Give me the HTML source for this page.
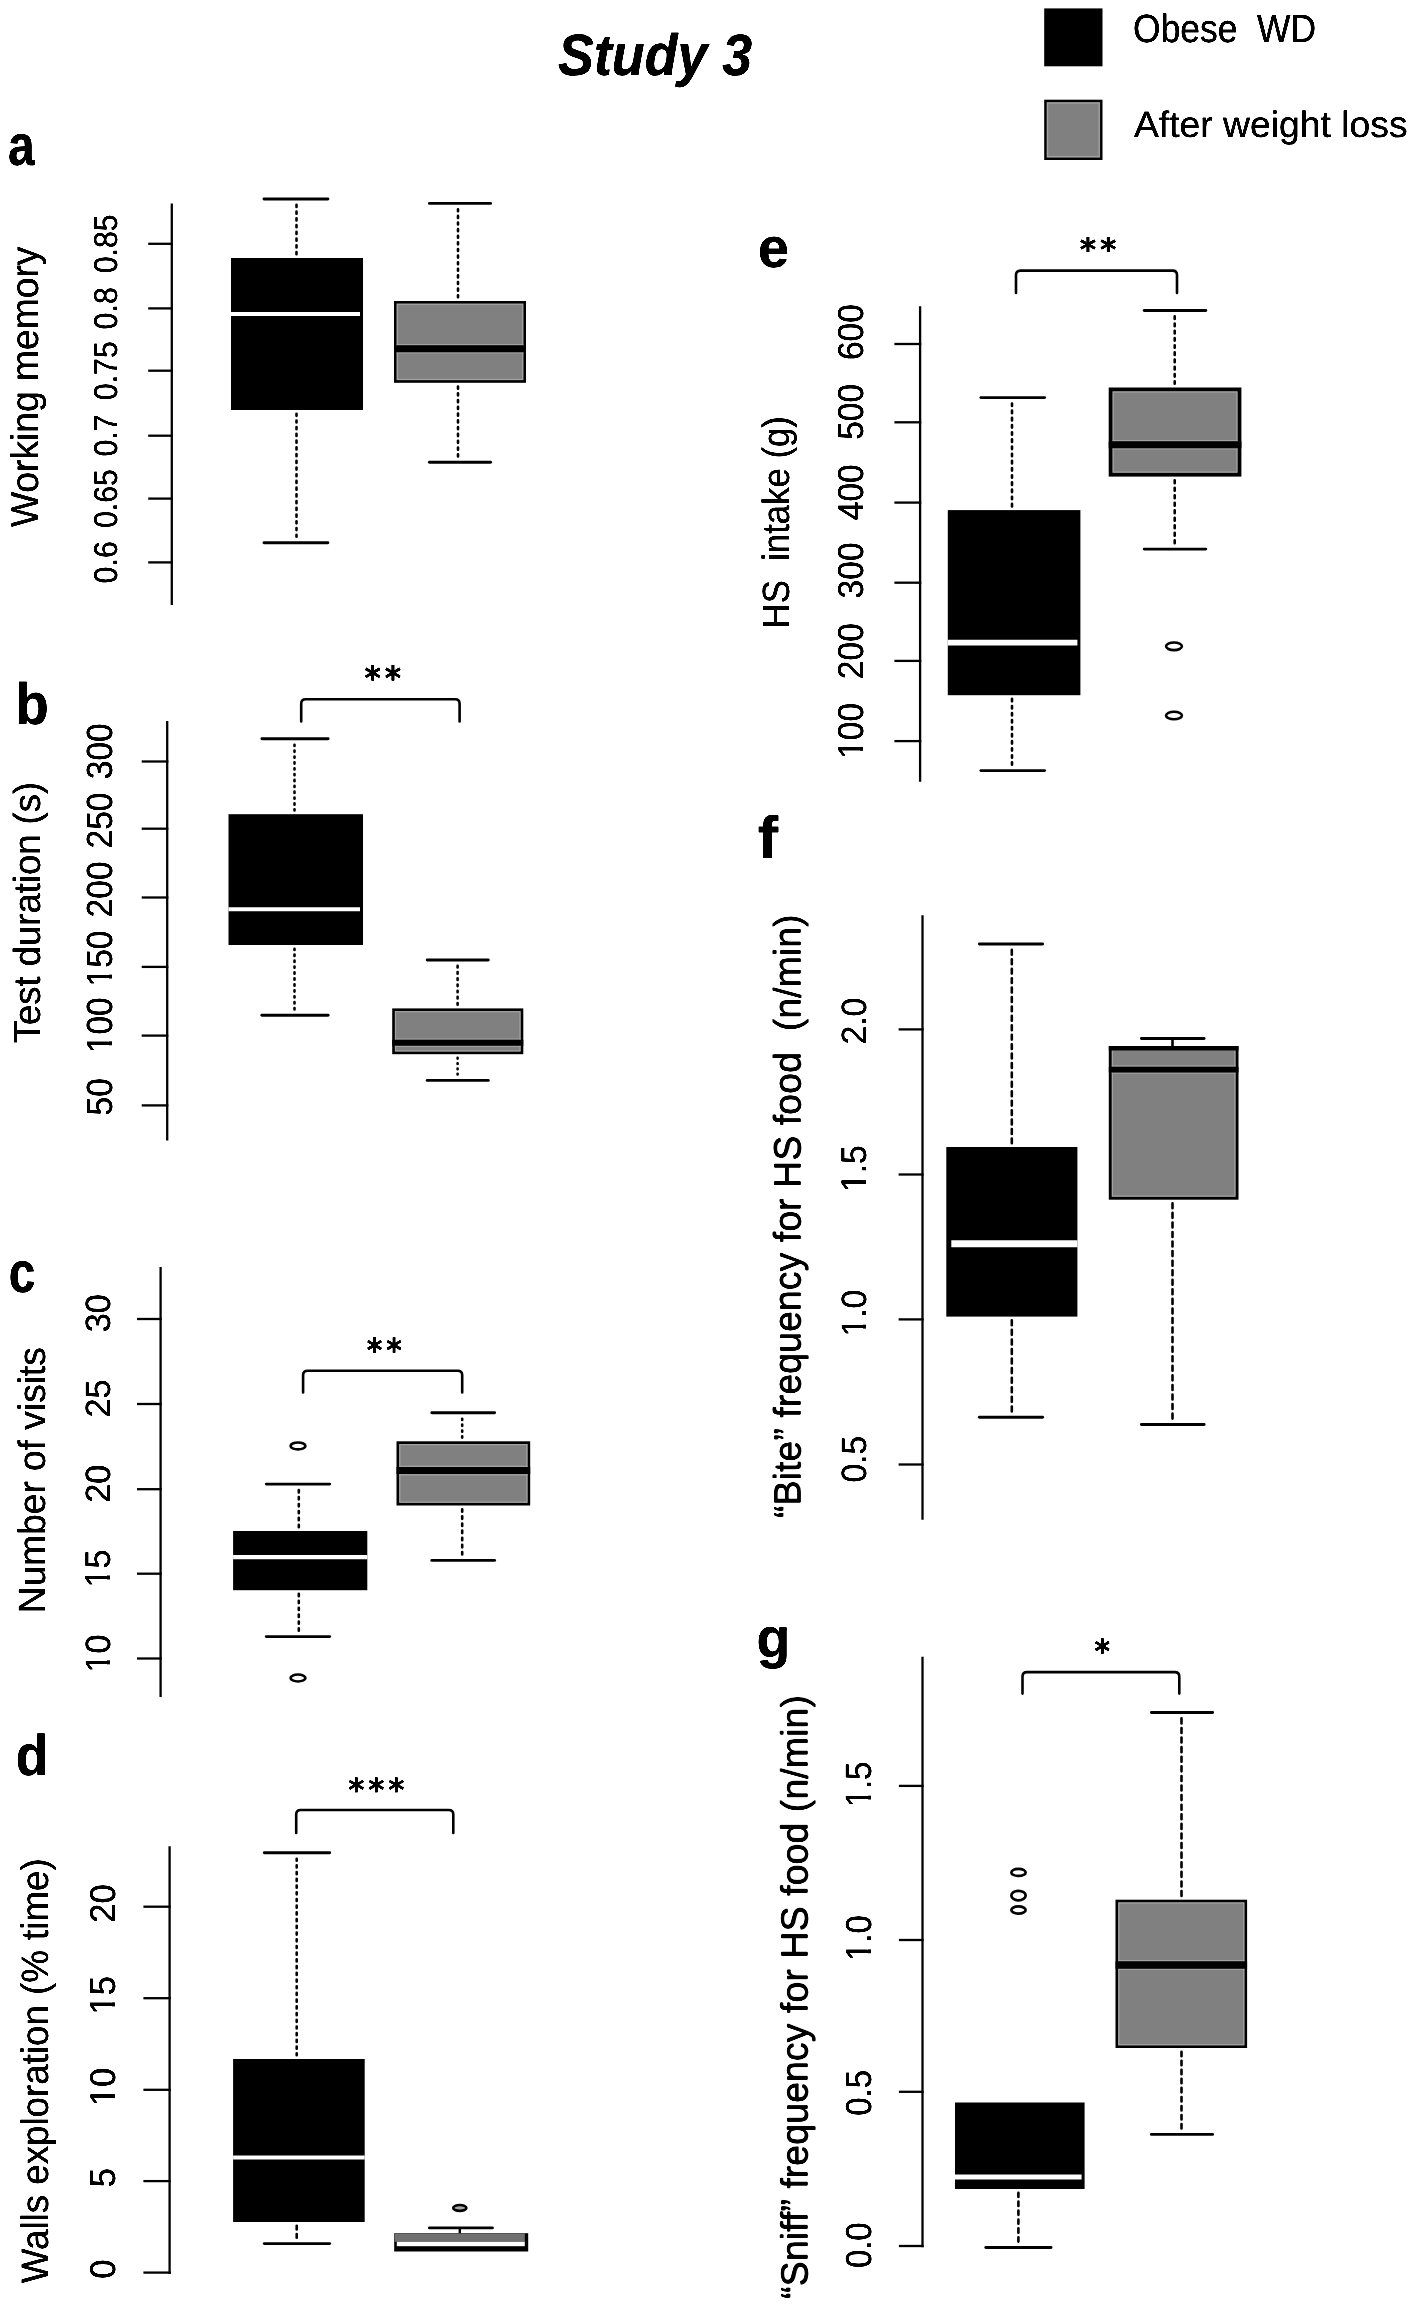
<!DOCTYPE html>
<html lang="en">
<head>
<meta charset="utf-8">
<title>Study 3</title>
<style>
html,body{margin:0;padding:0;background:#fff;}
body{width:1414px;height:2308px;overflow:hidden;}
svg{display:block;filter:blur(0.55px);}
</style>
</head>
<body>
<svg width="1414" height="2308" viewBox="0 0 1414 2308" font-family='"Liberation Sans", sans-serif' fill="#000" text-rendering="geometricPrecision">
<rect width="1414" height="2308" fill="#fff"/>
<defs><filter id="bold" filterUnits="userSpaceOnUse" x="0" y="0" width="1414" height="2308" color-interpolation-filters="sRGB"><feGaussianBlur stdDeviation="0.7"/><feComponentTransfer><feFuncA type="linear" slope="2.5" intercept="-0.15"/></feComponentTransfer></filter></defs>
<rect x="1044.2" y="8.4" width="58.3" height="57.9" fill="#000"/>
<rect x="1045.4" y="100.9" width="55.9" height="57.9" fill="#808080" stroke="#000" stroke-width="2.4"/>
<rect x="1047.6" y="103.1" width="51.5" height="53.5" fill="none" stroke="#a2a2a2" stroke-width="1.2"/>
<line x1="171.8" y1="203.6" x2="171.8" y2="605" stroke="#000" stroke-width="2.3" stroke-linecap="butt"/>
<line x1="148.2" y1="243.8" x2="172.95" y2="243.8" stroke="#000" stroke-width="2.3" />
<line x1="148.2" y1="308.4" x2="172.95" y2="308.4" stroke="#000" stroke-width="2.3" />
<line x1="148.2" y1="370.7" x2="172.95" y2="370.7" stroke="#000" stroke-width="2.3" />
<line x1="148.2" y1="435.7" x2="172.95" y2="435.7" stroke="#000" stroke-width="2.3" />
<line x1="148.2" y1="498.6" x2="172.95" y2="498.6" stroke="#000" stroke-width="2.3" />
<line x1="148.2" y1="562.4" x2="172.95" y2="562.4" stroke="#000" stroke-width="2.3" />
<line x1="296.5" y1="204.9" x2="296.5" y2="254.3" stroke="#000" stroke-width="2.6" stroke-linecap="round" stroke-dasharray="2.15 4.6"/>
<line x1="264" y1="199" x2="327.9" y2="199" stroke="#000" stroke-width="2.9" stroke-linecap="round"/>
<line x1="296.5" y1="536.8" x2="296.5" y2="413.7" stroke="#000" stroke-width="2.6" stroke-linecap="round" stroke-dasharray="2.12 4.6"/>
<line x1="264" y1="542.7" x2="327.9" y2="542.7" stroke="#000" stroke-width="2.9" stroke-linecap="round"/>
<rect x="231" y="258" width="132" height="152" fill="#000"/>
<line x1="231" y1="314" x2="360" y2="314" stroke="#fff" stroke-width="4.2"/>
<line x1="458" y1="209.3" x2="458" y2="297.3" stroke="#000" stroke-width="2.6" stroke-linecap="round" stroke-dasharray="2.01 4.6"/>
<line x1="429.4" y1="203.4" x2="490.6" y2="203.4" stroke="#000" stroke-width="2.9" stroke-linecap="round"/>
<line x1="458" y1="456.4" x2="458" y2="386.5" stroke="#000" stroke-width="2.6" stroke-linecap="round" stroke-dasharray="2.17 4.6"/>
<line x1="429.4" y1="462.3" x2="490.6" y2="462.3" stroke="#000" stroke-width="2.9" stroke-linecap="round"/>
<rect x="395.35" y="302.35" width="129.3" height="79.1" fill="#808080" stroke="#000" stroke-width="2.7"/>
<rect x="397.3" y="304.3" width="125.4" height="75.2" fill="none" stroke="#a2a2a2" stroke-width="1.2"/>
<line x1="396.7" y1="344.5" x2="523.3" y2="344.5" stroke="#a2a2a2" stroke-width="1.2"/>
<line x1="396.7" y1="352.9" x2="523.3" y2="352.9" stroke="#a2a2a2" stroke-width="1.2"/>
<line x1="394" y1="348.7" x2="526" y2="348.7" stroke="#000" stroke-width="7" />
<line x1="167.2" y1="721" x2="167.2" y2="1140.5" stroke="#000" stroke-width="2.3" stroke-linecap="butt"/>
<line x1="141.7" y1="761.5" x2="168.35" y2="761.5" stroke="#000" stroke-width="2.3" />
<line x1="141.7" y1="828.7" x2="168.35" y2="828.7" stroke="#000" stroke-width="2.3" />
<line x1="141.7" y1="897.5" x2="168.35" y2="897.5" stroke="#000" stroke-width="2.3" />
<line x1="141.7" y1="966.9" x2="168.35" y2="966.9" stroke="#000" stroke-width="2.3" />
<line x1="141.7" y1="1035.6" x2="168.35" y2="1035.6" stroke="#000" stroke-width="2.3" />
<line x1="141.7" y1="1105.4" x2="168.35" y2="1105.4" stroke="#000" stroke-width="2.3" />
<line x1="294.5" y1="744.7" x2="294.5" y2="810.5" stroke="#000" stroke-width="2.6" stroke-linecap="round" stroke-dasharray="1.27 4.6"/>
<line x1="261.9" y1="738.8" x2="328.1" y2="738.8" stroke="#000" stroke-width="2.9" stroke-linecap="round"/>
<line x1="294.5" y1="1009.4" x2="294.5" y2="948.7" stroke="#000" stroke-width="2.6" stroke-linecap="round" stroke-dasharray="1.34 4.6"/>
<line x1="261.9" y1="1015.3" x2="328.1" y2="1015.3" stroke="#000" stroke-width="2.9" stroke-linecap="round"/>
<rect x="228.5" y="814.2" width="134.5" height="130.8" fill="#000"/>
<line x1="228.5" y1="909.3" x2="360" y2="909.3" stroke="#fff" stroke-width="4"/>
<line x1="457.6" y1="965.9" x2="457.6" y2="1004.7" stroke="#000" stroke-width="2.6" stroke-linecap="round" stroke-dasharray="1.6 4.6"/>
<line x1="427.2" y1="960" x2="488.3" y2="960" stroke="#000" stroke-width="2.9" stroke-linecap="round"/>
<line x1="457.6" y1="1074.5" x2="457.6" y2="1057.9" stroke="#000" stroke-width="2.6" stroke-linecap="round" stroke-dasharray="0.7 4.6"/>
<line x1="427.2" y1="1080.4" x2="488.3" y2="1080.4" stroke="#000" stroke-width="2.9" stroke-linecap="round"/>
<rect x="393.55" y="1009.75" width="128.4" height="43.1" fill="#808080" stroke="#000" stroke-width="2.7"/>
<rect x="395.5" y="1011.7" width="124.5" height="39.2" fill="none" stroke="#a2a2a2" stroke-width="1.2"/>
<line x1="394.9" y1="1039" x2="520.6" y2="1039" stroke="#a2a2a2" stroke-width="1.2"/>
<line x1="394.9" y1="1046.4" x2="520.6" y2="1046.4" stroke="#a2a2a2" stroke-width="1.2"/>
<line x1="392.2" y1="1042.7" x2="523.3" y2="1042.7" stroke="#000" stroke-width="6" />
<path d="M301.2 721.4 V703.7 Q301.2 699.2 305.7 699.2 H455.1 Q459.6 699.2 459.6 703.7 V721.4" fill="none" stroke="#000" stroke-width="2.6" stroke-linecap="round"/>
<line x1="160.6" y1="1267" x2="160.6" y2="1697" stroke="#000" stroke-width="2.3" stroke-linecap="butt"/>
<line x1="137" y1="1319" x2="161.75" y2="1319" stroke="#000" stroke-width="2.3" />
<line x1="137" y1="1404" x2="161.75" y2="1404" stroke="#000" stroke-width="2.3" />
<line x1="137" y1="1489.2" x2="161.75" y2="1489.2" stroke="#000" stroke-width="2.3" />
<line x1="137" y1="1573.7" x2="161.75" y2="1573.7" stroke="#000" stroke-width="2.3" />
<line x1="137" y1="1658.5" x2="161.75" y2="1658.5" stroke="#000" stroke-width="2.3" />
<line x1="298.8" y1="1490" x2="298.8" y2="1527.3" stroke="#000" stroke-width="2.6" stroke-linecap="round" stroke-dasharray="2.38 4.6"/>
<line x1="266.3" y1="1484.1" x2="329.7" y2="1484.1" stroke="#000" stroke-width="2.9" stroke-linecap="round"/>
<line x1="298.8" y1="1630.7" x2="298.8" y2="1593.9" stroke="#000" stroke-width="2.6" stroke-linecap="round" stroke-dasharray="2.3 4.6"/>
<line x1="266.3" y1="1636.6" x2="329.7" y2="1636.6" stroke="#000" stroke-width="2.9" stroke-linecap="round"/>
<rect x="233.1" y="1531" width="134.2" height="59.2" fill="#000"/>
<line x1="233.1" y1="1557.1" x2="367.3" y2="1557.1" stroke="#fff" stroke-width="4.4"/>
<ellipse cx="298" cy="1445.9" rx="7.45" ry="3.45" fill="#fff" stroke="#000" stroke-width="2.6"/>
<ellipse cx="298" cy="1678" rx="7.45" ry="3.45" fill="#fff" stroke="#000" stroke-width="2.6"/>
<line x1="462.2" y1="1418.7" x2="462.2" y2="1437.6" stroke="#000" stroke-width="2.6" stroke-linecap="round" stroke-dasharray="1.27 4.6"/>
<line x1="431.8" y1="1412.8" x2="494.6" y2="1412.8" stroke="#000" stroke-width="2.9" stroke-linecap="round"/>
<line x1="462.2" y1="1554.5" x2="462.2" y2="1509.2" stroke="#000" stroke-width="2.6" stroke-linecap="round" stroke-dasharray="2.53 4.6"/>
<line x1="431.8" y1="1560.4" x2="494.6" y2="1560.4" stroke="#000" stroke-width="2.9" stroke-linecap="round"/>
<rect x="397.85" y="1442.65" width="131" height="61.5" fill="#808080" stroke="#000" stroke-width="2.7"/>
<rect x="399.8" y="1444.6" width="127.1" height="57.6" fill="none" stroke="#a2a2a2" stroke-width="1.2"/>
<line x1="399.2" y1="1466.4" x2="527.5" y2="1466.4" stroke="#a2a2a2" stroke-width="1.2"/>
<line x1="399.2" y1="1474.8" x2="527.5" y2="1474.8" stroke="#a2a2a2" stroke-width="1.2"/>
<line x1="396.5" y1="1470.6" x2="530.2" y2="1470.6" stroke="#000" stroke-width="7" />
<path d="M303.1 1392.5 V1375.2 Q303.1 1370.7 307.6 1370.7 H457.7 Q462.2 1370.7 462.2 1375.2 V1392.5" fill="none" stroke="#000" stroke-width="2.6" stroke-linecap="round"/>
<line x1="169.6" y1="1846.2" x2="169.6" y2="2273.9" stroke="#000" stroke-width="2.3" stroke-linecap="butt"/>
<line x1="143.4" y1="1906.7" x2="170.75" y2="1906.7" stroke="#000" stroke-width="2.3" />
<line x1="143.4" y1="1998.2" x2="170.75" y2="1998.2" stroke="#000" stroke-width="2.3" />
<line x1="143.4" y1="2089.8" x2="170.75" y2="2089.8" stroke="#000" stroke-width="2.3" />
<line x1="143.4" y1="2181.1" x2="170.75" y2="2181.1" stroke="#000" stroke-width="2.3" />
<line x1="143.4" y1="2272.6" x2="170.75" y2="2272.6" stroke="#000" stroke-width="2.3" />
<line x1="296.7" y1="1858.7" x2="296.7" y2="2055.3" stroke="#000" stroke-width="2.6" stroke-linecap="round" stroke-dasharray="2.11 4.6"/>
<line x1="264.3" y1="1852.8" x2="329.7" y2="1852.8" stroke="#000" stroke-width="2.9" stroke-linecap="round"/>
<line x1="296.7" y1="2237.7" x2="296.7" y2="2225.7" stroke="#000" stroke-width="2.6" stroke-linecap="round" stroke-dasharray="3.7 4.6"/>
<line x1="264.3" y1="2243.6" x2="329.7" y2="2243.6" stroke="#000" stroke-width="2.9" stroke-linecap="round"/>
<rect x="233.1" y="2059" width="131.6" height="163" fill="#000"/>
<line x1="233.1" y1="2157.5" x2="364.7" y2="2157.5" stroke="#fff" stroke-width="3.8"/>
<line x1="429.4" y1="2227.9" x2="492.4" y2="2227.9" stroke="#000" stroke-width="2.9" stroke-linecap="round"/>
<line x1="459.8" y1="2228" x2="459.8" y2="2234" stroke="#000" stroke-width="2.4" />
<rect x="394.2" y="2233.2" width="134" height="18.3" fill="#000"/>
<rect x="394.6" y="2233.4" width="130.2" height="8.4" fill="#707070"/>
<rect x="396.8" y="2241.8" width="128" height="4.4" fill="#fff"/>
<ellipse cx="459.8" cy="2207.9" rx="6.6" ry="2.95" fill="#aaa" stroke="#000" stroke-width="2.6"/>
<path d="M296.2 1833 V1814.5 Q296.2 1810 300.7 1810 H448.8 Q453.3 1810 453.3 1814.5 V1833" fill="none" stroke="#000" stroke-width="2.6" stroke-linecap="round"/>
<line x1="920.1" y1="306.2" x2="920.1" y2="781.8" stroke="#000" stroke-width="2.3" stroke-linecap="butt"/>
<line x1="894.4" y1="344" x2="921.25" y2="344" stroke="#000" stroke-width="2.3" />
<line x1="894.4" y1="422.3" x2="921.25" y2="422.3" stroke="#000" stroke-width="2.3" />
<line x1="894.4" y1="502.6" x2="921.25" y2="502.6" stroke="#000" stroke-width="2.3" />
<line x1="894.4" y1="582.7" x2="921.25" y2="582.7" stroke="#000" stroke-width="2.3" />
<line x1="894.4" y1="660.9" x2="921.25" y2="660.9" stroke="#000" stroke-width="2.3" />
<line x1="894.4" y1="741.1" x2="921.25" y2="741.1" stroke="#000" stroke-width="2.3" />
<line x1="1012" y1="403.5" x2="1012" y2="506.4" stroke="#000" stroke-width="2.6" stroke-linecap="round" stroke-dasharray="2.57 4.6"/>
<line x1="980.9" y1="397.6" x2="1044.6" y2="397.6" stroke="#000" stroke-width="2.9" stroke-linecap="round"/>
<line x1="1012" y1="764.7" x2="1012" y2="698.9" stroke="#000" stroke-width="2.6" stroke-linecap="round" stroke-dasharray="2.44 4.6"/>
<line x1="980.9" y1="770.6" x2="1044.6" y2="770.6" stroke="#000" stroke-width="2.9" stroke-linecap="round"/>
<rect x="947.8" y="510.1" width="132.6" height="185.1" fill="#000"/>
<line x1="947.8" y1="642.7" x2="1077.4" y2="642.7" stroke="#fff" stroke-width="5.8"/>
<line x1="1174.7" y1="316.4" x2="1174.7" y2="383.8" stroke="#000" stroke-width="2.6" stroke-linecap="round" stroke-dasharray="2.6 4.6"/>
<line x1="1144.2" y1="310.5" x2="1205.8" y2="310.5" stroke="#000" stroke-width="2.9" stroke-linecap="round"/>
<line x1="1174.7" y1="543.2" x2="1174.7" y2="480.3" stroke="#000" stroke-width="2.6" stroke-linecap="round" stroke-dasharray="2.9 4.6"/>
<line x1="1144.2" y1="549.1" x2="1205.8" y2="549.1" stroke="#000" stroke-width="2.9" stroke-linecap="round"/>
<rect x="1110.65" y="389.45" width="128.8" height="85.2" fill="#808080" stroke="#000" stroke-width="3.9"/>
<rect x="1113.2" y="392" width="123.7" height="80.1" fill="none" stroke="#a2a2a2" stroke-width="1.2"/>
<line x1="1112.6" y1="440.5" x2="1237.5" y2="440.5" stroke="#a2a2a2" stroke-width="1.2"/>
<line x1="1112.6" y1="448.9" x2="1237.5" y2="448.9" stroke="#a2a2a2" stroke-width="1.2"/>
<line x1="1108.7" y1="444.7" x2="1241.4" y2="444.7" stroke="#000" stroke-width="7" />
<ellipse cx="1174" cy="646.3" rx="7.95" ry="3.8" fill="#fff" stroke="#000" stroke-width="2.6"/>
<ellipse cx="1174" cy="715.5" rx="7.95" ry="3.8" fill="#fff" stroke="#000" stroke-width="2.6"/>
<path d="M1016 293 V275.1 Q1016 270.6 1020.5 270.6 H1172.5 Q1177 270.6 1177 275.1 V293" fill="none" stroke="#000" stroke-width="2.6" stroke-linecap="round"/>
<line x1="922.5" y1="915.3" x2="922.5" y2="1519.7" stroke="#000" stroke-width="2.3" stroke-linecap="butt"/>
<line x1="898.6" y1="1029.4" x2="923.65" y2="1029.4" stroke="#000" stroke-width="2.3" />
<line x1="898.6" y1="1174.5" x2="923.65" y2="1174.5" stroke="#000" stroke-width="2.3" />
<line x1="898.6" y1="1319.4" x2="923.65" y2="1319.4" stroke="#000" stroke-width="2.3" />
<line x1="898.6" y1="1464.5" x2="923.65" y2="1464.5" stroke="#000" stroke-width="2.3" />
<line x1="1011.8" y1="949.9" x2="1011.8" y2="1143.3" stroke="#000" stroke-width="2.6" stroke-linecap="round" stroke-dasharray="4.83 4.6"/>
<line x1="979.4" y1="944" x2="1042.6" y2="944" stroke="#000" stroke-width="2.9" stroke-linecap="round"/>
<line x1="1011.8" y1="1411.4" x2="1011.8" y2="1320.3" stroke="#000" stroke-width="2.6" stroke-linecap="round" stroke-dasharray="4.97 4.6"/>
<line x1="979.4" y1="1417.3" x2="1042.6" y2="1417.3" stroke="#000" stroke-width="2.9" stroke-linecap="round"/>
<rect x="946.3" y="1147" width="131.1" height="169.6" fill="#000"/>
<line x1="951.3" y1="1243.7" x2="1077.4" y2="1243.7" stroke="#fff" stroke-width="7"/>
<line x1="1141.4" y1="1038.5" x2="1204.1" y2="1038.5" stroke="#000" stroke-width="2.9" stroke-linecap="round"/>
<line x1="1172.5" y1="1038.5" x2="1172.5" y2="1047" stroke="#000" stroke-width="2.6" />
<line x1="1172.5" y1="1418.6" x2="1172.5" y2="1203.4" stroke="#000" stroke-width="2.6" stroke-linecap="round" stroke-dasharray="4.96 4.6"/>
<line x1="1141.4" y1="1424.5" x2="1204.1" y2="1424.5" stroke="#000" stroke-width="2.9" stroke-linecap="round"/>
<rect x="1110.3" y="1047.6" width="126.7" height="150.6" fill="#808080" stroke="#000" stroke-width="3"/>
<rect x="1112.4" y="1049.7" width="122.5" height="146.4" fill="none" stroke="#a2a2a2" stroke-width="1.2"/>
<line x1="1111.8" y1="1065.95" x2="1235.5" y2="1065.95" stroke="#a2a2a2" stroke-width="1.2"/>
<line x1="1111.8" y1="1073.25" x2="1235.5" y2="1073.25" stroke="#a2a2a2" stroke-width="1.2"/>
<line x1="1108.8" y1="1069.6" x2="1238.5" y2="1069.6" stroke="#000" stroke-width="5.9" />
<line x1="1108.8" y1="1048.2" x2="1238.5" y2="1048.2" stroke="#000" stroke-width="4.4" />
<line x1="922.5" y1="1656.7" x2="922.5" y2="2247.3" stroke="#000" stroke-width="2.3" stroke-linecap="butt"/>
<line x1="898.9" y1="1785.9" x2="923.65" y2="1785.9" stroke="#000" stroke-width="2.3" />
<line x1="898.9" y1="1940" x2="923.65" y2="1940" stroke="#000" stroke-width="2.3" />
<line x1="898.9" y1="2091.8" x2="923.65" y2="2091.8" stroke="#000" stroke-width="2.3" />
<line x1="898.9" y1="2246" x2="923.65" y2="2246" stroke="#000" stroke-width="2.3" />
<line x1="1018.4" y1="2241.6" x2="1018.4" y2="2192.7" stroke="#000" stroke-width="2.6" stroke-linecap="round" stroke-dasharray="4.32 4.6"/>
<line x1="985.8" y1="2247.5" x2="1051" y2="2247.5" stroke="#000" stroke-width="2.9" stroke-linecap="round"/>
<rect x="955" y="2102.5" width="129.6" height="86.5" fill="#000"/>
<line x1="955" y1="2177" x2="1081.6" y2="2177" stroke="#fff" stroke-width="5.2"/>
<ellipse cx="1018.5" cy="1872.4" rx="7.15" ry="3.55" fill="#fff" stroke="#000" stroke-width="2.7"/>
<ellipse cx="1018.5" cy="1895.6" rx="7.15" ry="4.8" fill="#fff" stroke="#000" stroke-width="2.7"/>
<ellipse cx="1018.5" cy="1910" rx="7.15" ry="3.55" fill="#fff" stroke="#000" stroke-width="2.7"/>
<line x1="1181.5" y1="1718.4" x2="1181.5" y2="1896" stroke="#000" stroke-width="2.6" stroke-linecap="round" stroke-dasharray="4.99 4.6"/>
<line x1="1151.4" y1="1712.5" x2="1212.6" y2="1712.5" stroke="#000" stroke-width="2.9" stroke-linecap="round"/>
<line x1="1181.5" y1="2128.5" x2="1181.5" y2="2051.7" stroke="#000" stroke-width="2.6" stroke-linecap="round" stroke-dasharray="4.44 4.6"/>
<line x1="1151.4" y1="2134.4" x2="1212.6" y2="2134.4" stroke="#000" stroke-width="2.9" stroke-linecap="round"/>
<rect x="1116.85" y="1901.05" width="128.9" height="145.6" fill="#808080" stroke="#000" stroke-width="2.7"/>
<rect x="1118.8" y="1903" width="125" height="141.7" fill="none" stroke="#a2a2a2" stroke-width="1.2"/>
<line x1="1118.2" y1="1960.55" x2="1244.4" y2="1960.55" stroke="#a2a2a2" stroke-width="1.2"/>
<line x1="1118.2" y1="1969.45" x2="1244.4" y2="1969.45" stroke="#a2a2a2" stroke-width="1.2"/>
<line x1="1115.5" y1="1965" x2="1247.1" y2="1965" stroke="#000" stroke-width="7.5" />
<path d="M1022.5 1693.6 V1676.6 Q1022.5 1672.1 1027 1672.1 H1174.8 Q1179.3 1672.1 1179.3 1676.6 V1693.6" fill="none" stroke="#000" stroke-width="2.6" stroke-linecap="round"/>
<g filter="url(#bold)">
<text transform="matrix(0.53752 0 0 0.58396 558.09 74.70)" font-size="100" font-weight="bold" font-style="italic" xml:space="preserve">Study 3</text>
<text transform="matrix(0.35409 0 0 0.39320 1133.11 41.61)" font-size="100" font-weight="normal" font-style="normal" xml:space="preserve">Obese  WD</text>
<text transform="matrix(0.37313 0 0 0.36578 1133.91 137.10)" font-size="100" font-weight="normal" font-style="normal" xml:space="preserve">After weight loss</text>
<text transform="matrix(0.47925 0 0 0.57636 7.96 164.52)" font-size="100" font-weight="bold" font-style="normal" xml:space="preserve">a</text>
<text transform="matrix(0.54851 0 0 0.58231 15.33 723.92)" font-size="100" font-weight="bold" font-style="normal" xml:space="preserve">b</text>
<text transform="matrix(0.47835 0 0 0.57636 8.79 1291.72)" font-size="100" font-weight="bold" font-style="normal" xml:space="preserve">c</text>
<text transform="matrix(0.53465 0 0 0.57143 15.76 1775.33)" font-size="100" font-weight="bold" font-style="normal" xml:space="preserve">d</text>
<text transform="matrix(0.55833 0 0 0.56182 758.07 267.14)" font-size="100" font-weight="bold" font-style="normal" xml:space="preserve">e</text>
<text transform="matrix(0.61250 0 0 0.59310 757.78 858.30)" font-size="100" font-weight="bold" font-style="normal" xml:space="preserve">f</text>
<text transform="matrix(0.55248 0 0 0.55762 756.49 1657.11)" font-size="100" font-weight="bold" font-style="normal" xml:space="preserve">g</text>
<text transform="matrix(0 -0.30295 0.32958 0 117.32 273.26)" font-size="100" font-weight="normal" font-style="normal" xml:space="preserve">0.85</text>
<text transform="matrix(0 -0.30295 0.32958 0 117.32 329.38)" font-size="100" font-weight="normal" font-style="normal" xml:space="preserve">0.8</text>
<text transform="matrix(0 -0.30295 0.32958 0 117.32 400.16)" font-size="100" font-weight="normal" font-style="normal" xml:space="preserve">0.75</text>
<text transform="matrix(0 -0.30295 0.32958 0 117.32 456.60)" font-size="100" font-weight="normal" font-style="normal" xml:space="preserve">0.7</text>
<text transform="matrix(0 -0.30295 0.32958 0 117.32 528.06)" font-size="100" font-weight="normal" font-style="normal" xml:space="preserve">0.65</text>
<text transform="matrix(0 -0.30295 0.32958 0 117.32 583.38)" font-size="100" font-weight="normal" font-style="normal" xml:space="preserve">0.6</text>
<text transform="matrix(0 -0.37211 0.38503 0 38.40 527.09)" font-size="100" font-weight="normal" font-style="normal" xml:space="preserve">Working memory</text>
<text transform="matrix(0 -0.33544 0.36338 0 111.59 779.21)" font-size="100" font-weight="normal" font-style="normal" xml:space="preserve">300</text>
<text transform="matrix(0 -0.33544 0.36338 0 111.59 848.48)" font-size="100" font-weight="normal" font-style="normal" xml:space="preserve">250</text>
<text transform="matrix(0 -0.33544 0.36338 0 111.59 917.38)" font-size="100" font-weight="normal" font-style="normal" xml:space="preserve">200</text>
<text transform="matrix(0 -0.33544 0.36338 0 111.59 986.50)" font-size="100" font-weight="normal" font-style="normal" xml:space="preserve">150</text>
<text transform="matrix(0 -0.33544 0.36338 0 111.59 1053.20)" font-size="100" font-weight="normal" font-style="normal" xml:space="preserve">100</text>
<text transform="matrix(0 -0.33544 0.36338 0 111.59 1115.50)" font-size="100" font-weight="normal" font-style="normal" xml:space="preserve">50</text>
<text transform="matrix(0 -0.36427 0.37647 0 39.70 1043.11)" font-size="100" font-weight="normal" font-style="normal" xml:space="preserve">Test duration (s)</text>
<text transform="matrix(0.31354 0 0 0.33763 364.47 689.75)" font-size="100" font-weight="bold" font-style="normal" style='font-family:"DejaVu Sans", "Liberation Sans", sans-serif' xml:space="preserve">*</text>
<text transform="matrix(0.31354 0 0 0.33763 384.72 689.75)" font-size="100" font-weight="bold" font-style="normal" style='font-family:"DejaVu Sans", "Liberation Sans", sans-serif' xml:space="preserve">*</text>
<text transform="matrix(0 -0.34146 0.35070 0 109.90 1332.34)" font-size="100" font-weight="normal" font-style="normal" xml:space="preserve">30</text>
<text transform="matrix(0 -0.34146 0.35070 0 109.90 1417.42)" font-size="100" font-weight="normal" font-style="normal" xml:space="preserve">25</text>
<text transform="matrix(0 -0.34146 0.35070 0 109.90 1502.71)" font-size="100" font-weight="normal" font-style="normal" xml:space="preserve">20</text>
<text transform="matrix(0 -0.34146 0.35571 0 109.89 1587.55)" font-size="100" font-weight="normal" font-style="normal" xml:space="preserve">15</text>
<text transform="matrix(0 -0.34146 0.35070 0 109.90 1672.43)" font-size="100" font-weight="normal" font-style="normal" xml:space="preserve">10</text>
<text transform="matrix(0 -0.37106 0.37959 0 44.60 1613.17)" font-size="100" font-weight="normal" font-style="normal" xml:space="preserve">Number of visits</text>
<text transform="matrix(0.29792 0 0 0.33333 366.70 1362.33)" font-size="100" font-weight="bold" font-style="normal" style='font-family:"DejaVu Sans", "Liberation Sans", sans-serif' xml:space="preserve">*</text>
<text transform="matrix(0.29792 0 0 0.33333 386.20 1362.33)" font-size="100" font-weight="bold" font-style="normal" style='font-family:"DejaVu Sans", "Liberation Sans", sans-serif' xml:space="preserve">*</text>
<text transform="matrix(0 -0.34537 0.35775 0 114.99 1922.73)" font-size="100" font-weight="normal" font-style="normal" xml:space="preserve">20</text>
<text transform="matrix(0 -0.34537 0.36286 0 114.99 2014.57)" font-size="100" font-weight="normal" font-style="normal" xml:space="preserve">15</text>
<text transform="matrix(0 -0.34537 0.35775 0 114.99 2106.26)" font-size="100" font-weight="normal" font-style="normal" xml:space="preserve">10</text>
<text transform="matrix(0 -0.34537 0.36286 0 114.99 2187.28)" font-size="100" font-weight="normal" font-style="normal" xml:space="preserve">5</text>
<text transform="matrix(0 -0.34537 0.35775 0 114.99 2278.78)" font-size="100" font-weight="normal" font-style="normal" xml:space="preserve">0</text>
<text transform="matrix(0 -0.36707 0.38182 0 48.20 2283.28)" font-size="100" font-weight="normal" font-style="normal" xml:space="preserve">Walls exploration (% time)</text>
<text transform="matrix(0.30833 0 0 0.31828 348.28 1801.01)" font-size="100" font-weight="bold" font-style="normal" style='font-family:"DejaVu Sans", "Liberation Sans", sans-serif' xml:space="preserve">*</text>
<text transform="matrix(0.30833 0 0 0.31828 368.28 1801.01)" font-size="100" font-weight="bold" font-style="normal" style='font-family:"DejaVu Sans", "Liberation Sans", sans-serif' xml:space="preserve">*</text>
<text transform="matrix(0.30833 0 0 0.31828 388.28 1801.01)" font-size="100" font-weight="bold" font-style="normal" style='font-family:"DejaVu Sans", "Liberation Sans", sans-serif' xml:space="preserve">*</text>
<text transform="matrix(0 -0.33544 0.35775 0 863.09 360.08)" font-size="100" font-weight="normal" font-style="normal" xml:space="preserve">600</text>
<text transform="matrix(0 -0.33544 0.35775 0 863.09 439.81)" font-size="100" font-weight="normal" font-style="normal" xml:space="preserve">500</text>
<text transform="matrix(0 -0.33544 0.35775 0 863.09 520.26)" font-size="100" font-weight="normal" font-style="normal" xml:space="preserve">400</text>
<text transform="matrix(0 -0.33544 0.35775 0 863.09 598.41)" font-size="100" font-weight="normal" font-style="normal" xml:space="preserve">300</text>
<text transform="matrix(0 -0.33544 0.35775 0 863.09 679.18)" font-size="100" font-weight="normal" font-style="normal" xml:space="preserve">200</text>
<text transform="matrix(0 -0.33544 0.35775 0 863.09 758.80)" font-size="100" font-weight="normal" font-style="normal" xml:space="preserve">100</text>
<text transform="matrix(0 -0.34724 0.37861 0 789.20 628.38)" font-size="100" font-weight="normal" font-style="normal" xml:space="preserve">HS  intake (g)</text>
<text transform="matrix(0.31354 0 0 0.32473 1079.67 261.39)" font-size="100" font-weight="bold" font-style="normal" style='font-family:"DejaVu Sans", "Liberation Sans", sans-serif' xml:space="preserve">*</text>
<text transform="matrix(0.31354 0 0 0.32473 1099.92 261.39)" font-size="100" font-weight="bold" font-style="normal" style='font-family:"DejaVu Sans", "Liberation Sans", sans-serif' xml:space="preserve">*</text>
<text transform="matrix(0 -0.33692 0.35070 0 866.40 1044.58)" font-size="100" font-weight="normal" font-style="normal" xml:space="preserve">2.0</text>
<text transform="matrix(0 -0.33692 0.35571 0 866.39 1192.01)" font-size="100" font-weight="normal" font-style="normal" xml:space="preserve">1.5</text>
<text transform="matrix(0 -0.33692 0.35070 0 866.40 1336.61)" font-size="100" font-weight="normal" font-style="normal" xml:space="preserve">1.0</text>
<text transform="matrix(0 -0.33692 0.35070 0 866.40 1482.62)" font-size="100" font-weight="normal" font-style="normal" xml:space="preserve">0.5</text>
<text transform="matrix(0 -0.37582 0.37861 0 800.50 1517.92)" font-size="100" font-weight="normal" font-style="normal" xml:space="preserve">“Bite” frequency for HS food  (n/min)</text>
<text transform="matrix(0 -0.32863 0.36571 0 870.58 1807.31)" font-size="100" font-weight="normal" font-style="normal" xml:space="preserve">1.5</text>
<text transform="matrix(0 -0.32863 0.36056 0 870.59 1961.01)" font-size="100" font-weight="normal" font-style="normal" xml:space="preserve">1.0</text>
<text transform="matrix(0 -0.32863 0.36056 0 870.59 2115.74)" font-size="100" font-weight="normal" font-style="normal" xml:space="preserve">0.5</text>
<text transform="matrix(0 -0.32863 0.36056 0 870.59 2268.04)" font-size="100" font-weight="normal" font-style="normal" xml:space="preserve">0.0</text>
<text transform="matrix(0 -0.37629 0.37647 0 807.30 2298.82)" font-size="100" font-weight="normal" font-style="normal" xml:space="preserve">“Sniff” frequency for HS food (n/min)</text>
<text transform="matrix(0.29792 0 0 0.33333 1094.40 1663.03)" font-size="100" font-weight="bold" font-style="normal" style='font-family:"DejaVu Sans", "Liberation Sans", sans-serif' xml:space="preserve">*</text>
</g>
<g transform="matrix(0 -0.33544 0.36338 0 111.59 986.50)" fill="#fff"><rect x="4.5" y="-10.5" width="19.2" height="13.5"/><rect x="35.4" y="-10.5" width="18.5" height="13.5"/></g>
<g transform="matrix(0 -0.33544 0.36338 0 111.59 1053.20)" fill="#fff"><rect x="4.5" y="-10.5" width="19.2" height="13.5"/><rect x="35.4" y="-10.5" width="18.5" height="13.5"/></g>
<g transform="matrix(0 -0.34146 0.35571 0 109.89 1587.55)" fill="#fff"><rect x="4.5" y="-10.5" width="19.2" height="13.5"/><rect x="35.4" y="-10.5" width="18.5" height="13.5"/></g>
<g transform="matrix(0 -0.34146 0.35070 0 109.90 1672.43)" fill="#fff"><rect x="4.5" y="-10.5" width="19.2" height="13.5"/><rect x="35.4" y="-10.5" width="18.5" height="13.5"/></g>
<g transform="matrix(0 -0.34537 0.36286 0 114.99 2014.57)" fill="#fff"><rect x="4.5" y="-10.5" width="19.2" height="13.5"/><rect x="35.4" y="-10.5" width="18.5" height="13.5"/></g>
<g transform="matrix(0 -0.34537 0.35775 0 114.99 2106.26)" fill="#fff"><rect x="4.5" y="-10.5" width="19.2" height="13.5"/><rect x="35.4" y="-10.5" width="18.5" height="13.5"/></g>
<g transform="matrix(0 -0.33544 0.35775 0 863.09 758.80)" fill="#fff"><rect x="4.5" y="-10.5" width="19.2" height="13.5"/><rect x="35.4" y="-10.5" width="18.5" height="13.5"/></g>
<g transform="matrix(0 -0.33692 0.35571 0 866.39 1192.01)" fill="#fff"><rect x="4.5" y="-10.5" width="19.2" height="13.5"/><rect x="35.4" y="-10.5" width="18.5" height="13.5"/></g>
<g transform="matrix(0 -0.33692 0.35070 0 866.40 1336.61)" fill="#fff"><rect x="4.5" y="-10.5" width="19.2" height="13.5"/><rect x="35.4" y="-10.5" width="18.5" height="13.5"/></g>
<g transform="matrix(0 -0.32863 0.36571 0 870.58 1807.31)" fill="#fff"><rect x="4.5" y="-10.5" width="19.2" height="13.5"/><rect x="35.4" y="-10.5" width="18.5" height="13.5"/></g>
<g transform="matrix(0 -0.32863 0.36056 0 870.59 1961.01)" fill="#fff"><rect x="4.5" y="-10.5" width="19.2" height="13.5"/><rect x="35.4" y="-10.5" width="18.5" height="13.5"/></g>
</svg>
</body>
</html>
